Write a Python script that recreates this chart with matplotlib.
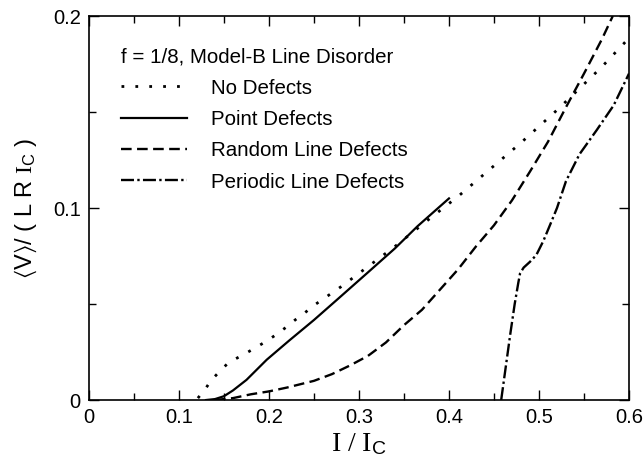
import matplotlib
matplotlib.use("Agg")
import matplotlib.pyplot as plt
from matplotlib.ticker import MultipleLocator, FuncFormatter

plt.rcParams["font.family"] = ["Liberation Sans", "DejaVu Sans"]
plt.rcParams["mathtext.fontset"] = "custom"
plt.rcParams["mathtext.rm"] = "Liberation Serif"
plt.rcParams["mathtext.sf"] = "Liberation Sans"
plt.rcParams["mathtext.it"] = "Liberation Serif:italic"
plt.rcParams["mathtext.fallback"] = "stixsans"

# --- data ---
# no defects (dotted)
nd_x = [0.121, 0.129, 0.136, 0.145, 0.154, 0.165, 0.176, 0.187, 0.198, 0.209,
        0.219, 0.229, 0.239, 0.249, 0.28, 0.31, 0.34, 0.38, 0.41, 0.44,
        0.46, 0.48, 0.50, 0.52, 0.54, 0.57, 0.60]
nd_y = [0.001, 0.0056, 0.0104, 0.0148, 0.019, 0.022, 0.0248, 0.0278, 0.0309, 0.0344,
        0.0379, 0.0417, 0.0451, 0.049, 0.059, 0.0695, 0.080, 0.095, 0.106, 0.118,
        0.126, 0.134, 0.1425, 0.151, 0.160, 0.1736, 0.1885]

# point defects (solid)
pd_x = [0.130, 0.140, 0.150, 0.160, 0.175, 0.1975, 0.2225, 0.25, 0.275, 0.31, 0.34, 0.365, 0.40]
pd_y = [0.0, 0.0005, 0.002, 0.005, 0.0105, 0.021, 0.031, 0.0417, 0.052, 0.0665, 0.079, 0.0905, 0.105]

# random line defects (dashed)
rl_x = [0.14, 0.16, 0.18, 0.20, 0.22, 0.25, 0.27, 0.29, 0.31, 0.33, 0.35, 0.37,
        0.39, 0.41, 0.43, 0.45, 0.47, 0.49, 0.51, 0.53, 0.55, 0.57, 0.582]
rl_y = [0.0, 0.001, 0.003, 0.0045, 0.0065, 0.010, 0.0135, 0.018, 0.023, 0.030, 0.039, 0.047,
        0.0575, 0.068, 0.080, 0.091, 0.104, 0.119, 0.1345, 0.1525, 0.170, 0.188, 0.200]

# periodic line defects (dash-dot)
pl_x = [0.458, 0.463, 0.468, 0.473, 0.477, 0.479, 0.483, 0.49, 0.497, 0.505,
        0.513, 0.52, 0.53, 0.545, 0.564, 0.583, 0.60]
pl_y = [0.0, 0.017, 0.034, 0.050, 0.061, 0.066, 0.069, 0.072, 0.0755, 0.083,
        0.092, 0.100, 0.114, 0.128, 0.1405, 0.1535, 0.170]

labels = ["No Defects", "Point Defects", "Random Line Defects", "Periodic Line Defects"]
legend_title = "f = 1/8, Model-B Line Disorder"


def fmt(v, pos):
    return "0" if abs(v) < 1e-9 else f"{v:.1f}"


fig = plt.figure(figsize=(6.43, 4.63), dpi=100)
ax = fig.add_axes([0.1384, 0.136, 0.8398, 0.8294])

ax.plot(nd_x, nd_y, color="black", lw=2.0, linestyle=(0, (1, 4)), label=labels[0])
ax.plot(pd_x, pd_y, color="black", lw=1.6, linestyle="-", label=labels[1])
ax.plot(rl_x, rl_y, color="black", lw=1.7, linestyle=(0, (4.5, 2.3)), label=labels[2])
ax.plot(pl_x, pl_y, color="black", lw=1.7, linestyle=(0, (5.5, 1.4, 1, 1.4)), label=labels[3])

ax.set_xlim(0, 0.6)
ax.set_ylim(0, 0.2)
ax.xaxis.set_major_locator(MultipleLocator(0.1))
ax.xaxis.set_minor_locator(MultipleLocator(0.05))
ax.yaxis.set_major_locator(MultipleLocator(0.1))
ax.yaxis.set_minor_locator(MultipleLocator(0.05))
ax.xaxis.set_major_formatter(FuncFormatter(fmt))
ax.yaxis.set_major_formatter(FuncFormatter(fmt))
ax.tick_params(which="both", direction="in", top=True, right=True, labelsize=14.5, pad=6, width=1)
ax.tick_params(which="major", length=7)
ax.tick_params(which="minor", length=5)
for s in ax.spines.values():
    s.set_linewidth(1.2)

ax.set_xlabel("I / I$_{\\mathsf{C}}$", family="Liberation Serif", fontsize=20, labelpad=3)
ax.set_ylabel("$\\langle$V$\\rangle$/ ( L R $\\mathrm{I}_{\\mathsf{C}}$ )", fontsize=17, labelpad=10)

leg = ax.legend(title=legend_title, loc="upper left", bbox_to_anchor=(0.0255, 0.967),
                frameon=False, fontsize=14.8, title_fontsize=14.8, alignment="left",
                handlelength=3.2, handletextpad=1.15, labelspacing=0.6, borderpad=0.4)

fig.savefig("out.png", dpi=100)
